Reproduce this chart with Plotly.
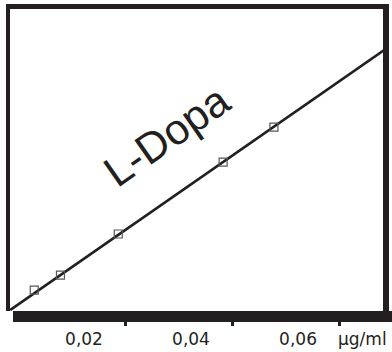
import plotly.graph_objects as go

# Data
conc = [0.0107, 0.0156, 0.0264, 0.0460, 0.0555]        # µg/ml
signal = [6.9, 11.9, 25.5, 49.3, 60.9]                  # arbitrary units
fit_x = [0.0062, 0.0761]
fit_y = [0.3, 86.4]
tick_vals = [0.02, 0.04, 0.06]
tick_text = ["0,02", "0,04", "0,06"]
notch_vals = [0.0277, 0.0477, 0.0677]
unit_label = "\u03bcg/ml"
series_label = "L-Dopa"

W, H = 392, 352
ml, mr, mt, mb = 10, 8, 9, 41
pw, ph = W - ml - mr, H - mt - mb

def px(x):
    return (x - ml) / pw

def py(y):
    return (H - mb - y) / ph

dark = "#231f20"

fig = go.Figure()
fig.add_trace(go.Scatter(x=fit_x, y=fit_y, mode="lines",
                         line=dict(color=dark, width=2.6), hoverinfo="skip"))
fig.add_trace(go.Scatter(x=conc, y=signal, mode="markers",
                         marker=dict(symbol="square-open", size=8,
                                     color="#555555", line=dict(width=1.2))))

shapes = []
def bar(x0, y0, x1, y1):
    shapes.append(dict(type="rect", xref="paper", yref="paper",
                       x0=px(x0), x1=px(x1), y0=py(y1), y1=py(y0),
                       fillcolor=dark, line=dict(width=0), layer="above"))
bar(6, 4, 388, 9)      # top
bar(6, 4, 10, 311)     # left
bar(383, 4, 389, 312)  # right
bar(13, 311, 392, 322) # bottom

fig.update_layout(
    width=W, height=H,
    margin=dict(l=ml, r=mr, t=mt, b=mb, pad=0, autoexpand=False),
    paper_bgcolor="white", plot_bgcolor="white",
    showlegend=False,
    shapes=shapes,
    font=dict(family="DejaVu Sans", color=dark),
    xaxis=dict(range=[0.00617, 0.07607], showgrid=False, zeroline=False,
               showline=False, tickmode="array", tickvals=tick_vals,
               ticktext=tick_text, ticks="outside", ticklen=5,
               tickcolor="rgba(0,0,0,0)", tickfont=dict(size=17, color=dark),
               ticklabelstandoff=8, automargin=False,
               minor=dict(tickmode="array", tickvals=notch_vals,
                          ticks="outside", ticklen=14, tickwidth=3,
                          tickcolor=dark, showgrid=False)),
    yaxis=dict(range=[0, 100], showgrid=False, zeroline=False,
               showline=False, showticklabels=False, ticks="",
               automargin=False),
    annotations=[
        dict(text=unit_label, xref="paper", yref="paper",
             x=px(389), y=py(339), xanchor="right", yanchor="middle",
             showarrow=False, font=dict(size=17, color=dark,
                                        family="DejaVu Sans")),
        dict(text=series_label, xref="paper", yref="paper",
             x=px(166), y=py(136), xanchor="center", yanchor="middle",
             textangle=-35, showarrow=False,
             font=dict(size=43, color=dark, family="Liberation Sans")),
    ],
)

fig.write_html("out.html", config={"displayModeBar": False},
               post_script="document.body.style.margin='0';")
